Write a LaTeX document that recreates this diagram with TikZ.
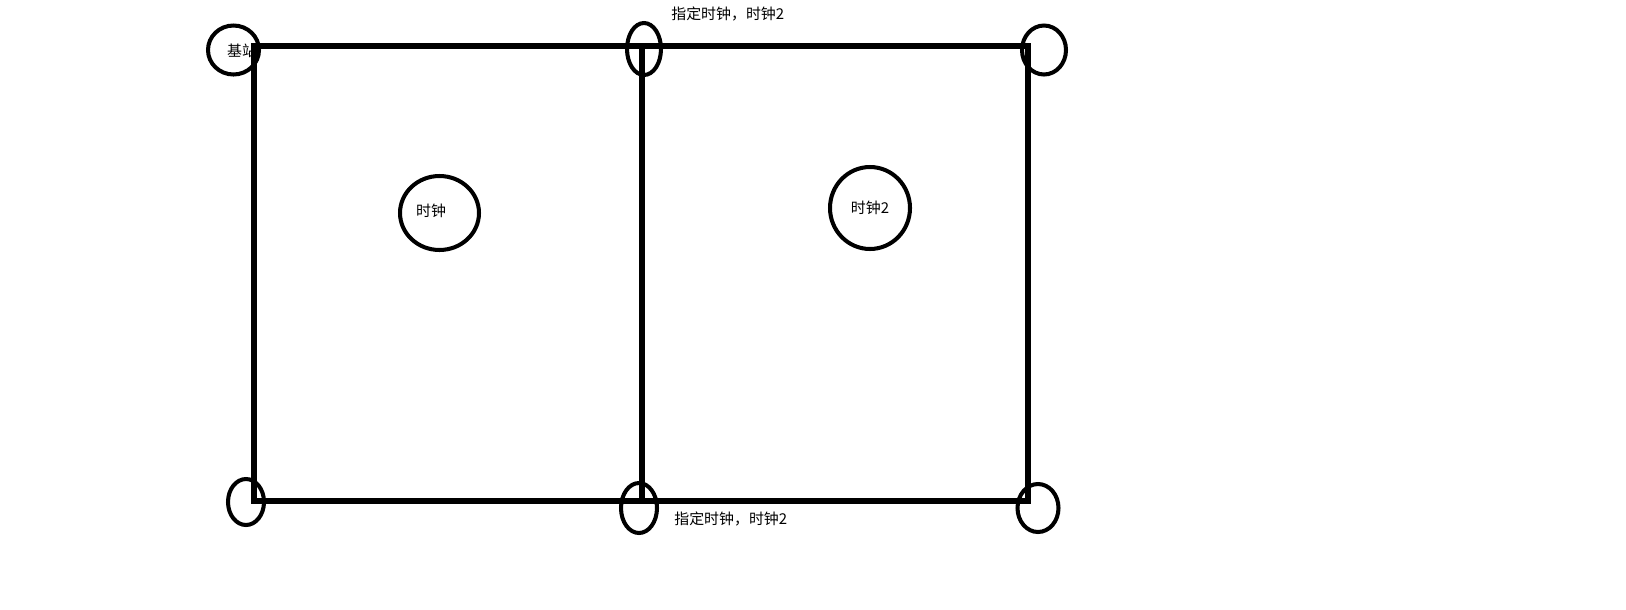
\documentclass[tikz,border=0pt]{standalone}
\usepackage{fontspec}
\newfontfamily\cjk{Noto Sans CJK SC}
\usetikzlibrary{shapes.geometric}

\begin{document}
\begin{tikzpicture}[x=0.02cm,y=-0.02cm,
  font=\cjk\fontsize{8.5}{10}\selectfont,
  wall/.style={line width=2.9pt,line join=miter},
  ring/.style={draw,ellipse,line width=2.3pt,inner sep=0pt},
  note/.style={inner sep=0pt,anchor=west}]
  \useasboundingbox (0,0) rectangle (1626,609);
  % corners of the two cells
  \coordinate (tl) at (254,46);
  \coordinate (tm) at (642,46);
  \coordinate (tr) at (1028,46);
  \coordinate (bl) at (254,501);
  \coordinate (bm) at (642,501);
  \coordinate (br) at (1028,501);
  \draw[wall] (tl) rectangle (br);
  \draw[wall] (tm) -- (bm);
  % stations on the corners
  \node[ring,minimum width=1.02cm,minimum height=0.98cm] (station) at (233.5,50) {};
  \node[inner sep=0pt] (stationtxt) at (242,51) {基站};
  \node[ring,minimum width=0.68cm,minimum height=1.04cm] (topmid) at (644,49) {};
  \node[ring,minimum width=0.88cm,minimum height=0.98cm] (topright) at (1044,50) {};
  \node[ring,minimum width=0.72cm,minimum height=0.92cm] (botleft) at (246,502) {};
  \node[ring,minimum width=0.72cm,minimum height=1.00cm] (botmid) at (639,508) {};
  \node[ring,minimum width=0.82cm,minimum height=0.96cm] (botright) at (1038,508) {};
  % clocks
  \node[ring,minimum width=1.58cm,minimum height=1.48cm] (clockA) at (439.5,213) {};
  \node[inner sep=0pt] (clockAtxt) at (431,211) {时钟};
  \node[ring,minimum width=1.60cm,minimum height=1.64cm] (clockB) at (870,208) {时钟2};
  \node[note] (topnote) at (671,14) {指定时钟，时钟2};
  \node[note] (botnote) at (674,519) {指定时钟，时钟2};
\end{tikzpicture}
\end{document}
